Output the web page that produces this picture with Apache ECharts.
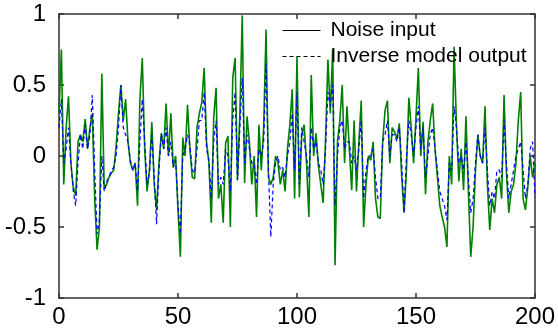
<!DOCTYPE html>
<html>
<head>
<meta charset="utf-8">
<script src="https://cdn.jsdelivr.net/npm/echarts@6/dist/echarts.min.js"></script>
<style>html,body{margin:0;padding:0;background:#fff}#c{width:558px;height:333px}</style>
</head>
<body>
<div id="c"></div>
<script>
var xTicks = [0, 50, 100, 150, 200];
var yTicks = [-1, -0.5, 0, 0.5, 1];
var seriesNames = ['Noise input', 'Inverse model output'];
var noiseInput = [
0.3,0.75,-0.2,0.2,0.42,-0.05,-0.22,-0.28,0.1,0.15,
0.1,0.26,0.05,0.2,0.3,-0.3,-0.66,-0.5,0.58,-0.23,
-0.2,-0.15,-0.12,-0.1,0.07,0.3,0.5,0.25,0.4,0.1,
-0.05,-0.1,-0.05,-0.35,0.4,0.69,0.05,-0.25,-0.1,0.24,
-0.2,-0.38,-0.05,0.16,0.05,0.37,0.0,0.3,-0.08,0.0,
-0.38,-0.71,0.13,0.0,0.36,0.05,-0.15,-0.16,0.2,0.3,
0.38,0.62,0.1,-0.05,-0.47,0.27,0.48,-0.3,-0.2,-0.47,
0.09,0.14,-0.5,0.55,0.69,-0.17,0.3,0.99,-0.19,0.28,
0.1,-0.2,0.0,-0.43,0.22,-0.1,0.2,0.89,-0.15,-0.2,
-0.15,0.0,-0.05,-0.2,-0.1,-0.25,0.05,0.22,0.47,-0.3,
0.7,-0.29,0.15,0.22,-0.05,-0.43,0.57,0.0,0.16,-0.07,
-0.2,-0.33,0.12,0.68,0.3,0.75,-0.77,0.1,0.25,0.5,
-0.05,0.35,0.05,-0.24,0.25,-0.25,0.1,0.39,-0.5,-0.2,
0.0,-0.03,0.1,-0.3,-0.43,-0.44,0.1,0.32,0.39,-0.05,
0.2,0.17,0.12,0.23,-0.15,-0.4,-0.1,0.41,0.2,-0.05,
0.27,0.62,0.0,0.24,-0.27,0.1,0.25,0.37,0.05,-0.15,
-0.35,-0.43,-0.5,-0.64,0.0,-0.2,0.77,0.22,-0.18,0.05,
-0.24,0.28,-0.24,-0.71,-0.5,-0.1,0.15,0.0,-0.05,0.35,
-0.2,-0.52,-0.3,-0.4,-0.2,-0.15,-0.3,0.43,-0.12,-0.4,
-0.25,-0.2,-0.05,0.25,0.45,-0.3,-0.38,-0.22,0.0,-0.15,
-0.05
];
var modelOutput = [
0.2,0.4,-0.05,0.05,0.2,-0.05,-0.25,-0.35,-0.05,0.15,
0.05,0.22,0.05,0.15,0.43,-0.1,-0.55,-0.45,0.0,-0.25,
-0.18,-0.15,-0.1,-0.08,0.0,0.2,0.5,0.2,0.15,0.1,
-0.03,-0.1,-0.05,-0.25,0.1,0.4,0.1,-0.2,-0.12,0.15,
-0.15,-0.48,-0.1,0.16,0.05,0.2,0.0,0.1,-0.08,-0.03,
-0.35,-0.55,0.0,0.05,0.15,0.08,-0.1,-0.12,0.05,0.25,
0.25,0.45,0.05,-0.03,-0.3,0.1,0.25,-0.2,-0.15,-0.2,
0.05,0.0,-0.25,0.25,0.45,-0.17,0.2,0.55,-0.05,0.15,
0.05,-0.05,-0.05,-0.2,0.05,0.0,0.1,0.65,-0.1,-0.57,
-0.2,-0.05,0.0,-0.1,-0.08,-0.15,0.0,0.1,0.3,-0.1,
0.45,-0.2,0.2,0.1,0.0,-0.15,0.2,0.05,0.1,-0.05,
-0.1,-0.2,0.05,0.45,0.35,0.5,-0.35,0.0,0.2,0.25,
0.05,0.1,0.1,-0.05,0.0,-0.1,0.05,0.25,-0.3,-0.1,
0.0,0.0,0.05,-0.15,-0.3,-0.3,0.1,0.15,0.25,0.0,
0.15,0.15,0.1,0.2,-0.05,-0.4,0.0,0.25,0.15,0.0,
0.2,0.35,0.05,0.2,-0.15,0.0,0.15,0.2,0.05,-0.1,
-0.25,-0.3,-0.35,-0.45,-0.05,-0.1,0.35,0.2,-0.05,0.0,
-0.1,0.1,-0.15,-0.4,-0.3,-0.05,0.15,0.0,-0.05,0.2,
-0.1,-0.35,-0.25,-0.3,-0.1,-0.1,-0.15,0.25,-0.05,-0.3,
-0.2,-0.1,0.0,0.05,0.1,-0.1,-0.3,-0.2,0.05,0.1,
-0.29
];

function pairs(arr){ return arr.map(function(v,i){ return [i, v]; }); }

var font = 'Liberation Sans, Arial, sans-serif';
var axisLineStyle = {color: '#333', width: 1.5};
function xAx(pos, showLabel){
  return {
    type: 'value', position: pos,
    min: xTicks[0], max: xTicks[xTicks.length-1], interval: xTicks[1]-xTicks[0],
    axisLine: {show: true, onZero: false, lineStyle: axisLineStyle},
    axisTick: {show: true, inside: true, length: 5, lineStyle: axisLineStyle},
    axisLabel: {show: showLabel, fontSize: 24, color: '#000', fontFamily: font, margin: 7},
    splitLine: {show: false}
  };
}
function yAx(pos, showLabel){
  return {
    type: 'value', position: pos,
    min: yTicks[0], max: yTicks[yTicks.length-1], interval: yTicks[1]-yTicks[0],
    axisLine: {show: true, onZero: false, lineStyle: axisLineStyle},
    axisTick: {show: true, inside: true, length: 5, lineStyle: axisLineStyle},
    axisLabel: {show: showLabel, fontSize: 24, color: '#000', fontFamily: font, margin: 13},
    splitLine: {show: false}
  };
}

var chart = echarts.init(document.getElementById('c'), null, {renderer: 'canvas'});
chart.setOption({
  animation: false,
  backgroundColor: '#fff',
  grid: {left: 59, right: 18, top: 14, bottom: 35, containLabel: false},
  xAxis: [xAx('bottom', true), xAx('top', false)],
  yAxis: [yAx('left', true), yAx('right', false)],
  legend: {
    left: 282, top: 20, orient: 'vertical', padding: 0,
    itemWidth: 38, itemHeight: 14, itemGap: 5,
    lineStyle: {color: '#000', width: 1},
    itemStyle: {color: '#000', opacity: 0},
    textStyle: {fontSize: 21, fontFamily: font, color: '#000', padding: [0,0,0,5]},
    data: seriesNames
  },
  series: [
    {name: seriesNames[0], type: 'line', data: pairs(noiseInput), showSymbol: false, symbol: 'none',
     lineStyle: {color: '#008000', width: 1.6}, itemStyle: {color: '#008000'}, z: 2},
    {name: seriesNames[1], type: 'line', data: pairs(modelOutput), showSymbol: false, symbol: 'none',
     lineStyle: {color: '#0000ff', width: 1.2, type: [4, 3]}, itemStyle: {color: '#0000ff'}, z: 3}
  ]
});
</script>
</body>
</html>
